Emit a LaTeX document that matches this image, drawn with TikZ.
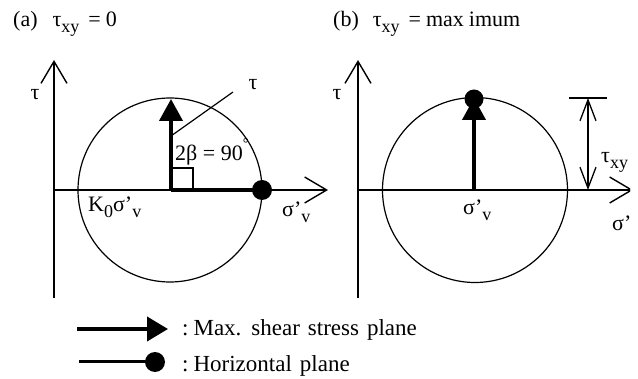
\documentclass[tikz,border=0pt]{standalone}
\usepackage{fontspec}
\setmainfont{Liberation Serif}
\usetikzlibrary{arrows.meta}
\newcommand{\lsub}[1]{\raisebox{-0.5ex}{\fontsize{18}{18}\selectfont #1}}
\newcommand{\legfont}{\fontsize{23}{27}\selectfont\spaceskip=8pt plus 1pt\relax}
\begin{document}
\begin{tikzpicture}[x=1pt,y=-1pt,
  font=\fontsize{22}{26}\selectfont,
  axis/.style={line width=1.4pt,-{Straight Barb[length=22pt,width=26pt]}},
  thickarrow/.style={line width=4pt,-{Triangle[length=22pt,width=23pt]}},
  planeline/.style={line width=4pt},
  thinline/.style={line width=1.2pt},
  dot/.style={circle,fill=black,inner sep=0pt,minimum size=20pt},
  dimarrow/.style={line width=1.3pt,{Straight Barb[length=21pt,width=16pt]}-{Straight Barb[length=21pt,width=16pt]}},
  lbl/.style={inner sep=0pt},
  legtext/.style={inner sep=0pt,font=\legfont}]
\useasboundingbox (0,0) rectangle (638,379);
\begin{scope}
\clip (0,0) rectangle (630,379);
% titles
\node[lbl,anchor=base west] (ta) at (13,27) {(a)\hspace{15pt}τ\lsub{xy}\hspace{9pt}=\hspace{5pt}0};
\node[lbl,anchor=base west] (tb) at (333,27) {(b)\hspace{14pt}τ\lsub{xy}\hspace{9pt}=\hspace{5pt}max\kern5pt imum};
% ---------- panel (a)
\coordinate (a-bot) at (54,298);
\coordinate (a-top) at (54,60);
\coordinate (a-org) at (54,190);
\coordinate (a-right) at (328,190);
\coordinate (ca) at (170,190);
\coordinate (ca2) at (171,190);
\coordinate (a-up) at (171,99);
\coordinate (a-ls) at (171,136);
\coordinate (a-le) at (233,92);
\draw[axis] (a-bot) -- (a-top);
\draw[axis] (a-org) -- (a-right);
\draw[thinline] (ca) circle (92);
\draw[thinline] (ca2) rectangle (193,168);
\node[dot] (hpa) at (262,190) {};
\draw[planeline] (ca2) -- (hpa.center);
\draw[thickarrow] (ca2) -- (a-up);
\draw[thinline] (a-ls) -- (a-le);
\node[lbl] (tauA) at (35,95) {τ};
\node[lbl] (tauL) at (253,85) {τ};
\node[lbl,anchor=base west] (beta) at (175,161) {2β = 90\raisebox{1.2ex}{\fontsize{15}{15}\selectfont °}};
\node[lbl,anchor=base west] (k0) at (88,212) {K\lsub{0}σ'\lsub{v}};
\node[lbl,anchor=base west] (sva) at (282,217) {σ'\lsub{v}};
% ---------- panel (b)
\coordinate (b-bot) at (358,298);
\coordinate (b-top) at (358,60);
\coordinate (b-org) at (358,190);
\coordinate (b-right) at (633,190);
\coordinate (cb) at (475,190);
\coordinate (cb2) at (474,190);
\coordinate (b-up) at (474,98);
\draw[axis] (b-bot) -- (b-top);
\draw[axis] (b-org) -- (b-right);
\draw[thinline] (cb) circle (92.5);
\draw[thickarrow] (cb2) -- (b-up);
\node[dot,minimum size=19pt] (hpb) at (474,99) {};
\coordinate (d-l) at (569,98);
\coordinate (d-r) at (607,98);
\coordinate (d-top) at (588,98);
\coordinate (d-bot) at (588,190);
\draw[thinline] (d-l) -- (d-r);
\draw[dimarrow] (d-top) -- (d-bot);
\node[lbl] (tauB) at (337,95) {τ};
\node[lbl,anchor=base west] (svb) at (463,215) {σ'\lsub{v}};
\node[lbl,anchor=base west] (txy) at (601,163) {τ\lsub{xy}};
\node[lbl,anchor=base west] (sgb) at (612,231) {σ'\lsub{v}};
\end{scope}
% ---------- legend
\coordinate (l1s) at (77,329);
\coordinate (l1e) at (168,329);
\coordinate (l2s) at (79,362);
\draw[thickarrow,-{Triangle[length=21pt,width=24pt]}] (l1s) -- (l1e);
\node[dot] (ldot) at (155,362) {};
\draw[line width=3pt] (l2s) -- (ldot.center);
\node[legtext,anchor=base west] (leg1) at (182,336) {:\hspace{5pt}Max. shear stress plane};
\node[legtext,anchor=base west] (leg2) at (182,372) {:\hspace{5pt}Horizontal plane};
\end{tikzpicture}
\end{document}
